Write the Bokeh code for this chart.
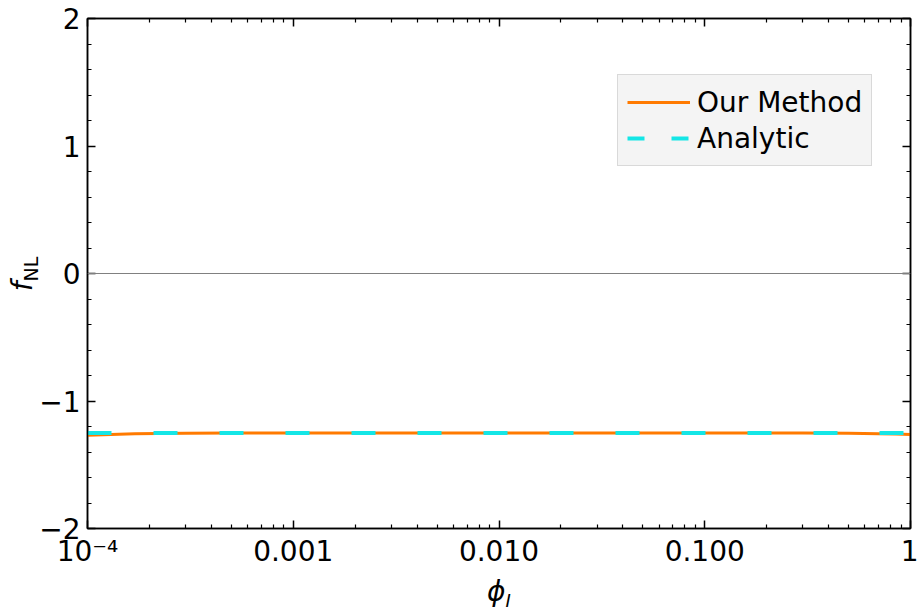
import numpy as np
from bokeh.plotting import figure
from bokeh.layouts import row, column
from bokeh.models import (FixedTicker, LogAxis, LinearAxis, Span, Legend, LegendItem,
                          Range1d, Div)
from bokeh.embed import file_html
from bokeh.resources import INLINE

# ---- data ----
phi = [1e-4, 1.3e-4, 1.7e-4, 2.2e-4, 3e-4, 5e-4, 1e-3, 1e-2, 1e-1, 0.3, 0.5, 0.7, 0.85, 1.0]
fnl_method = [-1.268, -1.262, -1.257, -1.254, -1.252, -1.251, -1.250, -1.250, -1.250,
              -1.251, -1.253, -1.256, -1.259, -1.262]
phi_analytic = [1e-4, 1.0]
fnl_analytic = [-1.25, -1.25]

x_major = [1e-4, 1e-3, 1e-2, 1e-1, 1.0]
x_labels = ["10⁻⁴", "0.001", "0.010", "0.100", "1"]
y_major = [-2, -1, 0, 1, 2]
y_labels = ["−2", "−1", "0", "1", "2"]

FONT = "DejaVu Sans"
TICK_FS = "28px"
ORANGE = "#ff7a00"
CYAN = "#14e6e6"

x_minor = [k * d for d in x_major[:-1] for k in range(2, 10)]
y_minor = list(np.round(np.arange(-2, 2.0001, 0.2), 6))

YLAB_W = 36
p = figure(width=918 - YLAB_W, height=573, x_axis_type="log",
           x_range=Range1d(1e-4, 1.0), y_range=Range1d(-2, 2),
           output_backend="svg", toolbar_location=None,
           min_border_left=87 - YLAB_W, min_border_right=8, min_border_top=18,
           min_border_bottom=45)
p.background_fill_color = "white"
p.border_fill_color = "white"
p.border_fill_alpha = 0
p.outline_line_color = "black"
p.outline_line_width = 1.5
p.xgrid.visible = False
p.ygrid.visible = False

# zero line
p.add_layout(Span(location=0, dimension="width", line_color="#808080", line_width=1))

r1 = p.line(phi, fnl_method, line_color=ORANGE, line_width=3)
r2 = p.line(phi_analytic, fnl_analytic, line_color=CYAN, line_width=4, line_dash="24 42")
# legend-only copy with the shorter dash period seen in the reference legend
r2_leg = p.line(phi_analytic, fnl_analytic, line_color=CYAN, line_width=4,
                line_dash="17 27", visible=False)

legend = Legend(items=[LegendItem(label="Our Method", renderers=[r1]),
                       LegendItem(label="Analytic", renderers=[r2_leg])],
                location=(530, 362), orientation="vertical",
                label_text_font=FONT, label_text_font_size="28px", label_text_color="black",
                label_standoff=7, glyph_width=63, glyph_height=36, label_height=36,
                spacing=0, padding=9, margin=0,
                background_fill_color="#f4f4f4", background_fill_alpha=1.0,
                border_line_color="#bdbdbd", border_line_width=1.5)
p.add_layout(legend, "center")

xt = FixedTicker(ticks=x_major, minor_ticks=x_minor)
yt = FixedTicker(ticks=y_major, minor_ticks=y_minor)


def style(ax, show_labels):
    ax.axis_line_color = "black"
    ax.axis_line_width = 1.5
    ax.major_tick_in = 8
    ax.major_tick_out = 0
    ax.minor_tick_in = 4
    ax.minor_tick_out = 0
    ax.major_tick_line_color = "black"
    ax.minor_tick_line_color = "black"
    ax.major_tick_line_width = 1.5
    ax.minor_tick_line_width = 1.2
    ax.major_label_text_font = FONT
    if show_labels:
        ax.major_label_text_font_size = TICK_FS
        ax.major_label_text_color = "black"
    else:
        ax.major_label_text_font_size = "1px"
        ax.major_label_text_alpha = 0
        ax.major_label_standoff = 0


p.xaxis.ticker = xt
p.yaxis.ticker = yt
p.xaxis.major_label_overrides = dict(zip(x_major, x_labels))
p.yaxis.major_label_overrides = dict(zip(y_major, y_labels))
style(p.xaxis[0], True)
style(p.yaxis[0], True)
p.xaxis.major_label_standoff = 6
p.yaxis.major_label_standoff = 7

top = LogAxis(ticker=xt)
right = LinearAxis(ticker=yt)
style(top, False)
style(right, False)
p.add_layout(top, "above")
p.add_layout(right, "right")

# axis titles as real HTML text with subscripts
ylab = Div(width=YLAB_W, height=573, margin=0, styles={"overflow": "visible"}, text=(
    f'<div style="position:relative;width:{YLAB_W}px;height:573px;overflow:visible;">'
    '<span style="position:absolute;left:25px;top:274px;'
    'transform:translate(-50%,-50%) rotate(-90deg);white-space:nowrap;'
    "font-family:'DejaVu Sans';font-size:28px;line-height:1;color:black;\">"
    '<i>f</i><sub style="font-size:19px;">NL</sub></span></div>'))
xlab = Div(width=918, height=35, margin=0, text=(
    '<div style="position:relative;width:918px;height:35px;">'
    '<span style="position:absolute;left:499px;top:21px;'
    'transform:translate(-50%,-50%);white-space:nowrap;'
    "font-family:'DejaVu Sans';font-size:28px;line-height:1;color:black;\">"
    '<i>ϕ</i><sub style="font-size:18px;"><i>I</i></sub></span></div>'))

layout = column(row(ylab, p, spacing=0), xlab, spacing=0)

open("out.html", "w").write(file_html(layout, INLINE))
